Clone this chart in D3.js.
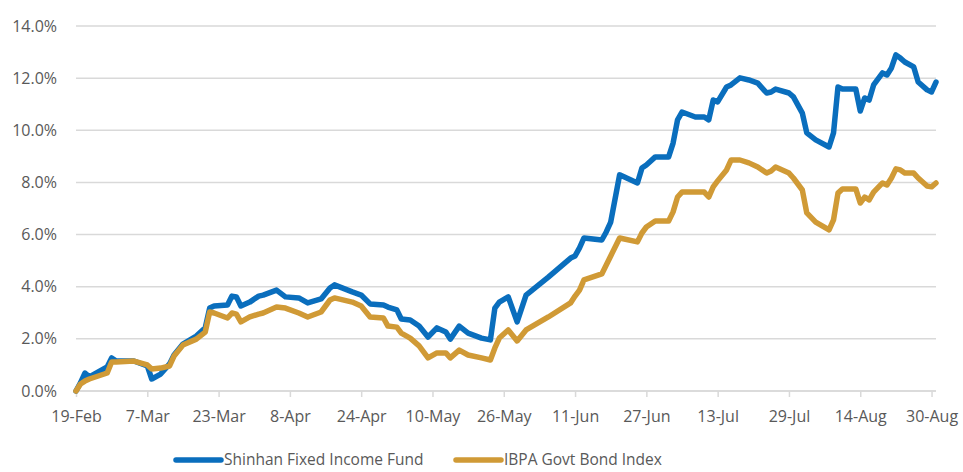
<!DOCTYPE html>
<html lang="en">
	<head>
		<meta charset="utf-8">
		<title>Shinhan Fixed Income Fund vs IBPA Govt Bond Index</title>
		<script type="text/javascript" src="https://cdn.jsdelivr.net/npm/d3@7"></script>
		<style type="text/css">
			body {
				margin: 0;
				background-color: white;
			}
			text {
				font-family: "Open Sans", sans-serif;
				fill: #595959;
			}
		</style>
	</head>
	<body>
		<script type="text/javascript">

			//Data
			var dates = [
				"2019-02-19","2019-02-20","2019-02-21","2019-02-22","2019-02-26","2019-02-27","2019-02-28","2019-03-04","2019-03-07","2019-03-08",
				"2019-03-10","2019-03-12","2019-03-13","2019-03-15","2019-03-18","2019-03-20","2019-03-21","2019-03-22","2019-03-25","2019-03-26",
				"2019-03-27","2019-03-28","2019-03-30","2019-04-01","2019-04-02","2019-04-05","2019-04-07","2019-04-10","2019-04-12","2019-04-15",
				"2019-04-17","2019-04-18","2019-04-22","2019-04-24","2019-04-26","2019-04-29","2019-04-30","2019-05-02","2019-05-03","2019-05-05",
				"2019-05-07","2019-05-09","2019-05-11","2019-05-13","2019-05-14","2019-05-16","2019-05-18","2019-05-21","2019-05-23","2019-05-24",
				"2019-05-25","2019-05-27","2019-05-29","2019-05-31","2019-06-05","2019-06-10","2019-06-11","2019-06-12","2019-06-13","2019-06-17",
				"2019-06-18","2019-06-19","2019-06-21","2019-06-25","2019-06-26","2019-06-27","2019-06-29","2019-07-02","2019-07-03","2019-07-04",
				"2019-07-05","2019-07-08","2019-07-10","2019-07-11","2019-07-12","2019-07-13","2019-07-15","2019-07-16","2019-07-18","2019-07-20",
				"2019-07-22","2019-07-24","2019-07-25","2019-07-26","2019-07-29","2019-07-30","2019-08-01","2019-08-02","2019-08-04","2019-08-07",
				"2019-08-08","2019-08-09","2019-08-10","2019-08-13","2019-08-14","2019-08-15","2019-08-16","2019-08-17","2019-08-19","2019-08-20",
				"2019-08-21","2019-08-22","2019-08-23","2019-08-24","2019-08-26","2019-08-27","2019-08-29","2019-08-30","2019-08-31"
			];

			// Shinhan Fixed Income Fund, cumulative return %
			var fundValues = [
				0, 0.31, 0.69, 0.54, 0.92, 1.27, 1.15, 1.15, 0.96, 0.46,
				0.65, 1.04, 1.38, 1.80, 2.11, 2.42, 3.18, 3.26, 3.30, 3.64,
				3.61, 3.26, 3.41, 3.64, 3.68, 3.87, 3.61, 3.57, 3.38, 3.53,
				3.95, 4.07, 3.80, 3.68, 3.34, 3.30, 3.22, 3.11, 2.76, 2.72,
				2.49, 2.07, 2.42, 2.26, 1.99, 2.49, 2.22, 2.03, 1.96, 3.18,
				3.41, 3.61, 2.65, 3.68, 4.37, 5.10, 5.18, 5.49, 5.87, 5.79,
				6.10, 6.48, 8.29, 7.98, 8.55, 8.67, 8.98, 8.98, 9.51, 10.40,
				10.70, 10.51, 10.51, 10.40, 11.16, 11.09, 11.66, 11.74, 12.01, 11.93,
				11.81, 11.43, 11.47, 11.58, 11.43, 11.28, 10.66, 9.90, 9.63, 9.36,
				9.90, 11.66, 11.58, 11.58, 10.74, 11.24, 11.16, 11.74, 12.20, 12.12,
				12.39, 12.89, 12.77, 12.62, 12.43, 11.85, 11.55, 11.47, 11.85
			];

			// IBPA Govt Bond Index, cumulative return %
			var indexValues = [
				0, 0.27, 0.38, 0.46, 0.69, 1.11, 1.11, 1.15, 1.00, 0.84,
				0.88, 0.96, 1.34, 1.76, 1.99, 2.26, 3.03, 2.99, 2.80, 2.99,
				2.95, 2.65, 2.84, 2.95, 2.99, 3.22, 3.18, 2.99, 2.84, 3.03,
				3.49, 3.57, 3.41, 3.26, 2.84, 2.80, 2.49, 2.45, 2.22, 2.03,
				1.73, 1.27, 1.46, 1.46, 1.27, 1.57, 1.38, 1.27, 1.19, 1.65,
				2.03, 2.34, 1.92, 2.34, 2.84, 3.38, 3.64, 3.87, 4.26, 4.49,
				4.83, 5.18, 5.87, 5.72, 6.06, 6.29, 6.52, 6.52, 6.87, 7.44,
				7.63, 7.63, 7.63, 7.44, 7.83, 8.06, 8.48, 8.86, 8.86, 8.75,
				8.59, 8.36, 8.44, 8.59, 8.36, 8.17, 7.71, 6.83, 6.48, 6.18,
				6.56, 7.59, 7.75, 7.75, 7.21, 7.44, 7.33, 7.63, 7.98, 7.90,
				8.17, 8.52, 8.48, 8.36, 8.36, 8.17, 7.86, 7.83, 7.98
			];

			var seriesNames = ["Shinhan Fixed Income Fund", "IBPA Govt Bond Index"];
			var seriesColors = ["#0a6ebd", "#d09a36"];
			var yTicks = [0, 2, 4, 6, 8, 10, 12, 14];
			var xStart = "2019-02-19", xEnd = "2019-08-31";

			//Width and height
			var w = 963;
			var h = 472;
			var margin = { left: 76, right: 27, top: 26, bottom: 81 };

			var parseDate = d3.timeParse("%Y-%m-%d");
			var fmtDate = d3.timeFormat("%-d-%b");

			var series = [fundValues, indexValues].map(function(vals, k) {
				return {
					name: seriesNames[k],
					color: seriesColors[k],
					points: vals.map(function(v, i) { return { date: parseDate(dates[i]), value: v }; })
				};
			});

			//Scales
			var xScale = d3.scaleTime()
							.domain([parseDate(xStart), parseDate(xEnd)])
							.range([margin.left, w - margin.right]);

			var yScale = d3.scaleLinear()
							.domain([0, 14])
							.range([h - margin.bottom, margin.top]);

			//Create SVG element
			var svg = d3.select("body")
						.append("svg")
						.attr("width", w)
						.attr("height", h);

			//Gridlines
			svg.append("g")
			   .selectAll("line")
			   .data(yTicks)
			   .enter()
			   .append("line")
			   .attr("x1", margin.left)
			   .attr("x2", w - margin.right)
			   .attr("y1", function(d) { return yScale(d); })
			   .attr("y2", function(d) { return yScale(d); })
			   .attr("stroke", "#d9d9d9")
			   .attr("stroke-width", 1.5);

			//Y axis labels
			var yAxis = d3.axisLeft(yScale)
						  .tickValues(yTicks)
						  .tickSize(0)
						  .tickPadding(19)
						  .tickFormat(function(d) { return d.toFixed(1) + "%"; });

			var gy = svg.append("g")
						.attr("transform", "translate(" + margin.left + ",0)")
						.call(yAxis);
			gy.select(".domain").remove();
			gy.selectAll("text")
			  .attr("font-size", "16px")
			  .attr("font-family", "Open Sans, sans-serif")
			  .attr("fill", "#595959");

			//X axis, tick every 16 days
			var xTickDates = d3.range(0, 13).map(function(i) {
				return d3.timeDay.offset(parseDate(xStart), i * 16);
			});

			var xAxis = d3.axisBottom(xScale)
						  .tickValues(xTickDates)
						  .tickSize(6)
						  .tickPadding(14)
						  .tickFormat(fmtDate);

			var gx = svg.append("g")
						.attr("transform", "translate(0," + yScale(0) + ")")
						.call(xAxis);
			gx.select(".domain")
			  .attr("stroke", "#d9d9d9")
			  .attr("stroke-width", 1.5)
			  .attr("d", "M" + margin.left + ",0H" + (w - margin.right));
			gx.selectAll(".tick line")
			  .attr("stroke", "#d9d9d9")
			  .attr("stroke-width", 1.5);
			gx.selectAll("text")
			  .attr("font-size", "16px")
			  .attr("font-family", "Open Sans, sans-serif")
			  .attr("fill", "#595959");

			//Lines
			var line = d3.line()
						 .x(function(d) { return xScale(d.date); })
						 .y(function(d) { return yScale(d.value); });

			svg.append("g")
			   .selectAll("path")
			   .data(series)
			   .enter()
			   .append("path")
			   .attr("d", function(d) { return line(d.points); })
			   .attr("fill", "none")
			   .attr("stroke", function(d) { return d.color; })
			   .attr("stroke-width", 5.5)
			   .attr("stroke-linejoin", "round")
			   .attr("stroke-linecap", "round");

			//Legend (kept just inside the bottom edge)
			var legendX = [176, 456];
			var legendY = 460;
			var legend = svg.append("g")
							.selectAll("g")
							.data(series)
							.enter()
							.append("g")
							.attr("transform", function(d, i) { return "translate(" + legendX[i] + "," + legendY + ")"; });

			legend.append("line")
				  .attr("x1", 0)
				  .attr("x2", 45)
				  .attr("stroke", function(d) { return d.color; })
				  .attr("stroke-width", 5.5)
				  .attr("stroke-linecap", "round");

			legend.append("text")
				  .attr("x", 48)
				  .attr("y", 5)
				  .attr("font-size", "15.5px")
				  .text(function(d) { return d.name; });

		</script>
	</body>
</html>
